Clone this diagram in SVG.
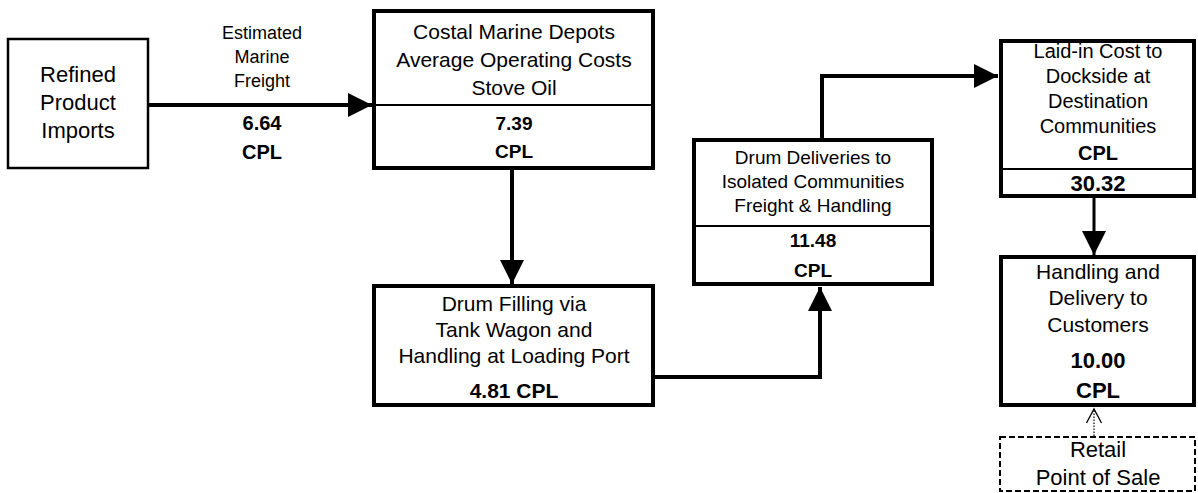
<svg xmlns="http://www.w3.org/2000/svg" width="1198" height="493" viewBox="0 0 1198 493">
<style>
.t{font-family:"Liberation Sans",Arial,sans-serif;fill:#000;text-anchor:middle}
.b{font-weight:bold}
.box{fill:#fff;stroke:#000;stroke-width:4}
.thin{fill:#fff;stroke:#000;stroke-width:2.5}
.div{stroke:#000;stroke-width:2}
.con{fill:none;stroke:#000;stroke-width:4}
</style>
<defs>
<marker id="ah" markerUnits="userSpaceOnUse" markerWidth="24" markerHeight="24" viewBox="0 0 22 22" refX="22" refY="11" orient="auto">
<path d="M0,0 L22,11 L0,22 Z" fill="#000"/>
</marker>
<marker id="oh" markerUnits="userSpaceOnUse" markerWidth="18" markerHeight="18" viewBox="0 0 18 18" refX="16" refY="9" orient="auto">
<path d="M2,1.5 L16,9 L2,16.5" fill="none" stroke="#000" stroke-width="1.3"/>
</marker>
</defs>
<g id="connectors">
<line class="con" x1="149" y1="105" x2="372" y2="105" marker-end="url(#ah)"/>
<line class="con" x1="512" y1="170" x2="512" y2="284" marker-end="url(#ah)"/>
<polyline class="con" points="655,377 820,377 820,287" marker-end="url(#ah)"/>
<polyline class="con" points="822,138 822,76 998,76" marker-end="url(#ah)"/>
<line x1="1094" y1="198" x2="1094" y2="255" stroke="#000" stroke-width="3" marker-end="url(#ah)"/>
<line x1="1094" y1="436" x2="1094" y2="409" stroke="#000" stroke-width="1.2" stroke-dasharray="1.5,1.5" marker-end="url(#oh)"/>
</g>
<g id="edge-label">
<text class="t" x="262" y="39" font-size="18">Estimated</text>
<text class="t" x="262" y="63" font-size="18">Marine</text>
<text class="t" x="262" y="87" font-size="18">Freight</text>
<text class="t b" x="262" y="130" font-size="20">6.64</text>
<text class="t b" x="262" y="159" font-size="20">CPL</text>
</g>
<g id="refined">
<rect class="thin" x="8" y="39" width="140" height="129"/>
<text class="t" x="78" y="82" font-size="22">Refined</text>
<text class="t" x="78" y="110" font-size="22">Product</text>
<text class="t" x="78" y="138" font-size="22">Imports</text>
</g>
<g id="depots">
<rect class="box" x="374" y="11" width="279" height="157"/>
<line class="div" x1="374" y1="105" x2="653" y2="105"/>
<text class="t" x="514" y="39" font-size="21">Costal Marine Depots</text>
<text class="t" x="514" y="67" font-size="21">Average Operating Costs</text>
<text class="t" x="514" y="95" font-size="21">Stove Oil</text>
<text class="t b" x="514" y="130" font-size="19">7.39</text>
<text class="t b" x="514" y="158" font-size="19">CPL</text>
</g>
<g id="drum-filling">
<rect class="box" x="374" y="286" width="279" height="119"/>
<text class="t" x="514" y="311" font-size="21">Drum Filling via</text>
<text class="t" x="514" y="337" font-size="21">Tank Wagon and</text>
<text class="t" x="514" y="363" font-size="21">Handling at Loading Port</text>
<text class="t b" x="514" y="398" font-size="21">4.81 CPL</text>
</g>
<g id="drum-deliveries">
<rect class="box" x="694" y="140" width="238" height="144"/>
<line class="div" x1="694" y1="226" x2="932" y2="226"/>
<text class="t" x="813" y="164" font-size="19">Drum Deliveries to</text>
<text class="t" x="813" y="188" font-size="19">Isolated Communities</text>
<text class="t" x="813" y="212" font-size="19">Freight &amp; Handling</text>
<text class="t b" x="813" y="247" font-size="19">11.48</text>
<text class="t b" x="813" y="277" font-size="19">CPL</text>
</g>
<g id="laid-in">
<rect class="box" x="1001" y="41" width="193" height="155"/>
<line class="div" x1="1001" y1="169" x2="1194" y2="169"/>
<text class="t" x="1098" y="58" font-size="20">Laid-in Cost to</text>
<text class="t" x="1098" y="83" font-size="20">Dockside at</text>
<text class="t" x="1098" y="108" font-size="20">Destination</text>
<text class="t" x="1098" y="133" font-size="20">Communities</text>
<text class="t b" x="1098" y="160" font-size="20">CPL</text>
<text class="t b" x="1098" y="191" font-size="22">30.32</text>
</g>
<g id="handling">
<rect class="box" x="1001" y="257" width="193" height="148"/>
<text class="t" x="1098" y="279" font-size="21">Handling and</text>
<text class="t" x="1098" y="305" font-size="21">Delivery to</text>
<text class="t" x="1098" y="332" font-size="21">Customers</text>
<text class="t b" x="1098" y="368" font-size="22">10.00</text>
<text class="t b" x="1098" y="398" font-size="22">CPL</text>
</g>
<g id="retail">
<rect x="1000" y="437" width="195" height="54" fill="#fff" stroke="#000" stroke-width="2" stroke-dasharray="6,3"/>
<text class="t" x="1098" y="457" font-size="22">Retail</text>
<text class="t" x="1098" y="485" font-size="22">Point of Sale</text>
</g>
</svg>
